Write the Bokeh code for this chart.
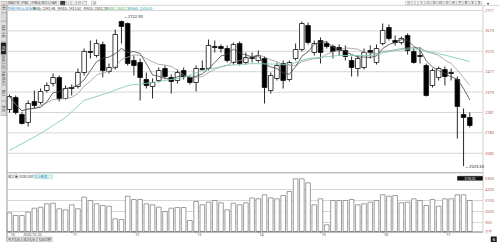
import math
import pandas as pd
from bokeh.plotting import figure
from bokeh.models import Range1d, ColumnDataSource
from bokeh.core.properties import value
from bokeh.embed import file_html
from bokeh.resources import INLINE

# ---------------- data ----------------
opens = [2295.4, 2353.0, 2271.3, 2232.9, 2333.8, 2329.0, 2386.6, 2420.3, 2449.1, 2348.2,
         2401.1, 2405.9, 2473.1, 2574.0, 2554.8, 2607.6, 2477.9, 2497.1, 2718.1, 2708.5,
         2530.8, 2521.2, 2439.5, 2405.9, 2434.7, 2492.3, 2449.1, 2434.7, 2482.7, 2449.1,
         2425.1, 2492.3, 2492.3, 2598.0, 2598.0, 2588.4, 2521.2, 2612.4, 2521.2, 2545.2,
         2530.8, 2540.4, 2386.6, 2444.3, 2516.3, 2439.5, 2540.4, 2583.6, 2698.9, 2569.2,
         2626.8, 2612.4, 2598.0, 2593.2, 2578.8, 2530.8, 2492.3, 2497.1, 2578.8, 2521.2,
         2612.4, 2689.3, 2626.8, 2617.2, 2650.9, 2574.0, 2554.8, 2506.7, 2410.7, 2449.1,
         2487.5, 2473.1, 2439.5, 2271.3, 2256.9]
closes = [2357.8, 2281.0, 2228.1, 2324.2, 2314.6, 2381.8, 2410.7, 2449.1, 2348.2, 2396.2,
          2396.2, 2473.1, 2574.0, 2569.2, 2612.4, 2482.7, 2497.1, 2655.7, 2694.1, 2516.3,
          2506.7, 2449.1, 2410.7, 2425.1, 2482.7, 2453.9, 2429.9, 2473.1, 2453.9, 2425.1,
          2492.3, 2487.5, 2602.8, 2593.2, 2588.4, 2530.8, 2607.6, 2516.3, 2545.2, 2540.4,
          2554.8, 2401.1, 2458.7, 2506.7, 2434.7, 2521.2, 2583.6, 2708.5, 2617.2, 2612.4,
          2569.2, 2598.0, 2574.0, 2578.8, 2550.0, 2497.1, 2540.4, 2569.2, 2569.2, 2588.4,
          2674.9, 2636.4, 2617.2, 2636.4, 2578.8, 2521.2, 2550.0, 2362.6, 2482.7, 2492.3,
          2453.9, 2468.3, 2309.8, 2256.9, 2218.5]
highs = [2367.4, 2362.6, 2281.0, 2338.6, 2386.6, 2396.2, 2425.1, 2468.3, 2458.7, 2410.7,
         2415.5, 2492.3, 2588.4, 2626.8, 2631.6, 2622.0, 2516.3, 2679.7, 2722.9, 2713.3,
         2554.8, 2540.4, 2473.1, 2444.3, 2497.1, 2506.7, 2463.5, 2487.5, 2497.1, 2458.7,
         2506.7, 2530.8, 2631.6, 2626.8, 2607.6, 2602.8, 2617.2, 2622.0, 2569.2, 2569.2,
         2578.8, 2550.0, 2473.1, 2521.2, 2530.8, 2530.8, 2612.4, 2718.1, 2713.3, 2626.8,
         2641.3, 2622.0, 2607.6, 2607.6, 2602.8, 2550.0, 2554.8, 2588.4, 2602.8, 2607.6,
         2708.5, 2703.7, 2650.9, 2646.1, 2660.5, 2588.4, 2593.2, 2516.3, 2492.3, 2501.9,
         2501.9, 2492.3, 2453.9, 2300.2, 2281.0]
lows = [2281.0, 2271.3, 2223.3, 2213.7, 2300.2, 2319.4, 2377.0, 2405.9, 2333.8, 2343.4,
        2362.6, 2396.2, 2458.7, 2540.4, 2545.2, 2449.1, 2468.3, 2487.5, 2612.4, 2506.7,
        2458.7, 2338.6, 2396.2, 2348.2, 2425.1, 2444.3, 2372.2, 2420.3, 2439.5, 2415.5,
        2381.8, 2482.7, 2482.7, 2569.2, 2569.2, 2521.2, 2511.5, 2506.7, 2511.5, 2521.2,
        2521.2, 2324.2, 2372.2, 2434.7, 2396.2, 2429.9, 2530.8, 2574.0, 2607.6, 2554.8,
        2516.3, 2588.4, 2540.4, 2554.8, 2530.8, 2453.9, 2453.9, 2487.5, 2540.4, 2511.5,
        2602.8, 2626.8, 2602.8, 2607.6, 2559.6, 2516.3, 2516.3, 2357.8, 2401.1, 2434.7,
        2410.7, 2434.7, 2156.0, 2023.3, 2208.9]
volumes = [1870, 1600, 1600, 1930, 2330, 2430, 2770, 2830, 2270, 2170,
           2670, 2270, 3430, 3100, 2770, 2600, 2530, 1270, 1200, 3530,
           3200, 3200, 2770, 2670, 2430, 2000, 2330, 2400, 2400, 1100,
           3000, 2670, 2930, 3100, 2870, 2170, 2830, 2670, 2870, 3350,
           3270, 3670, 3370, 3270, 3600, 4000, 5270, 5270, 4870, 2670,
           3270, 670, 3100, 3100, 3100, 3200, 2670, 2770, 2930, 3100,
           3670, 3530, 3600, 2870, 2930, 3270, 3100, 2600, 3200, 2530,
           3270, 3270, 3670, 3670, 3100]
ma60_idx = [0, 5, 9, 12, 16, 19, 23, 28, 31, 35, 39, 45, 48, 53, 58, 62, 65, 69, 74]
ma60_val = [2098.4, 2180.0, 2257.0, 2339.0, 2377.0, 2411.0, 2425.0, 2449.0, 2483.0, 2507.0,
            2516.0, 2512.0, 2540.0, 2555.0, 2555.0, 2579.0, 2588.0, 2564.0, 2526.0]
price_ticks = [2771, 2673, 2575, 2477, 2379, 2281, 2183, 2085]
vol_ticks = [5300, 4200, 3100, 2000, 900]
vol_tick_labels = ["5300", "4200", "3100", "2000", "900"]
date_idx = [0, 10, 20, 30, 40, 50, 60, 70]
date_labels = ["10", "11", "12", "13", "14", "15", "16", "17"]
first_date = "2020-10-20"

# ---------------- geometry ----------------
W, H = 499, 242
SP, X0 = 6.22, 9.0           # px per bar, px of first bar centre
P_TOP, P_PER_PX = 2819.0, 4.804
V_BASE_PX, V_PER_PX = 231.0, 100.0
PL, PR = 6.5, 482.5          # plot frame left / right (px)
CJK = value("Noto Sans CJK SC")
SANS = value("Noto Sans")

n = len(opens)
idx = list(range(n))

p = figure(width=W, height=H, output_backend="svg", toolbar_location=None,
           x_range=Range1d(-X0 / SP, (W - X0) / SP),
           y_range=Range1d(P_TOP - P_PER_PX * H, P_TOP),
           x_axis_location=None, y_axis_location=None,
           min_border=0, outline_line_color=None,
           background_fill_color="white", border_fill_color="white")
for g in p.grid:
    g.visible = False
p.extra_x_ranges = {"px": Range1d(0, W)}
p.extra_y_ranges = {"px": Range1d(H, 0),
                    "vol": Range1d(-(H - V_BASE_PX) * V_PER_PX, V_BASE_PX * V_PER_PX)}


def box(x0, y0, x1, y1, fill, line="#a0a0a0", lw=0.6):
    p.quad(left=[x0], right=[x1], top=[y0], bottom=[y1], x_range_name="px", y_range_name="px",
           fill_color=fill, line_color=line, line_width=lw)


def hline(y, x0, x1, color, lw=1.0, dash="solid"):
    p.segment(x0=[x0], x1=[x1], y0=[y], y1=[y], x_range_name="px", y_range_name="px",
              line_color=color, line_width=lw, line_dash=dash)


def vline(x, y0, y1, color, lw=1.0):
    p.segment(x0=[x], x1=[x], y0=[y0], y1=[y1], x_range_name="px", y_range_name="px",
              line_color=color, line_width=lw)


def txt(xs, ys, texts, size="4px", color="#333333", align="left", font=CJK, angle=0.0,
        baseline="middle"):
    p.text(x=xs, y=ys, text=texts, x_range_name="px", y_range_name="px",
           text_font=font, text_font_size=size, text_color=color, text_align=align,
           text_baseline=baseline, angle=angle)


# ---------------- header ----------------
hline(4.8, 0, W, "#c8c8c8", 0.8)
tabs = ["MA5", "TIE", "FIB4", "FIB34", "BOLL", "SAR"]
tx = [7, 14, 21, 31, 41, 50]
tw = [6.5, 6.5, 9, 9, 8.5, 8.5]
for x, w_, t in zip(tx, tw, tabs):
    box(x, 0.4, x + w_, 4.3, "#f4f4f4", "#b0b0b0", 0.5)
txt([x + 0.6 for x in tx], [2.4] * len(tx), tabs, size="3px", color="#444444", font=SANS)
box(60, 0.4, 64.5, 4.3, "#3a3a3a", "#3a3a3a", 0.5)
for x in [66, 71, 76, 82, 91]:
    box(x, 0.4, x + 4.3, 4.3, "#f4f4f4", "#a8a8a8", 0.5)
txt([67, 72, 77, 83, 92], [2.4] * 5, ["+", "-", "↔", "▤", "⚙"], size="3px", color="#555555")

period = ["分", "1", "5", "15", "30", "60", "日", "周", "月", "季", "年", "多"]
for k, t in enumerate(period):
    x = 405 + k * 6.4
    box(x, 0.4, x + 6.0, 4.3, "#f6f6f6", "#b0b0b0", 0.5)
txt([405 + k * 6.4 + 3.0 for k in range(len(period))], [2.4] * len(period), period,
    size="3px", color="#444444", align="center")
txt([486], [2.4], ["▾"], size="4px", color="#222222")

ma5 = pd.Series(closes).rolling(5, min_periods=1).mean().tolist()
ma10 = pd.Series(closes).rolling(10, min_periods=1).mean().tolist()
ma20 = pd.Series(closes).rolling(20, min_periods=1).mean().tolist()
row2 = [("均线(MA)", 7, "#2a8fbd"), ("上证指数", 21, "#2a8fbd"),
        (f"MA5: {ma5[-1]:.2f}", 33, "#333333"), (f"MA10: {ma10[-1]:.2f}", 57, "#333333"),
        (f"MA20: {ma20[-1]:.2f}", 83, "#333333"), (f"MA30: {ma20[-1]:.2f}", 105, "#3a9a3a"),
        (f"MA60: {ma60_val[-1]:.2f}", 128, "#2aa0b0")]
txt([r[1] for r in row2], [7.6] * len(row2), [r[0] for r in row2], size="3.6px",
    color=[r[2] for r in row2])

# ---------------- left toolbar ----------------
segs = [(0.5, 12), (12.5, 20.5), (21, 41), (42, 54), (54.5, 68), (69, 84), (85, 100), (101, 115)]
labels = ["分时", "…", "技术分析", "K线", "画线工具", "多股同列", "统计", "资讯"]
for k, (a, b) in enumerate(segs):
    dark = (k == 3)
    box(0.2, a, 5.8, b, "#1e1e1e" if dark else "#dedede", "#9a9a9a", 0.5)
txt([3.0] * len(segs), [(a + b) / 2 for a, b in segs], labels, size="3.2px",
    color=["#ffffff" if k == 3 else "#333333" for k in range(len(segs))],
    align="center", angle=-math.pi / 2)

# ---------------- frame & grid ----------------
vline(PL, 4.8, H, "#8a8a8a", 0.9)
vline(PR, 4.8, 232, "#c4c4c4", 0.8)
p.segment(x0=[PL] * len(price_ticks), x1=[PR] * len(price_ticks), y0=price_ticks, y1=price_ticks,
          x_range_name="px", line_color="#d6d6d6", line_width=1)
p.text(x=[484.5] * len(price_ticks), y=price_ticks, text=[str(t) for t in price_ticks],
       x_range_name="px", text_font=SANS, text_font_size="4px", text_color="#b8635a",
       text_baseline="middle")

# ---------------- candles ----------------
up = [c >= o for o, c in zip(opens, closes)]
src = ColumnDataSource(dict(
    x=idx, o=opens, c=closes, h=highs, l=lows,
    top=[max(o, c) for o, c in zip(opens, closes)],
    bot=[min(o, c) for o, c in zip(opens, closes)],
    fill=["white" if u else "black" for u in up]))
p.segment(x0="x", y0="l", x1="x", y1="h", source=src, line_color="#111111", line_width=0.9)
p.vbar(x="x", width=0.74, top="top", bottom="bot", fill_color="fill", line_color="#111111",
       line_width=0.8, source=src)

p.line(idx, ma10, line_color="#9a9a9a", line_width=0.8)
p.line(idx, ma5, line_color="#444444", line_width=0.8)
p.line(ma60_idx, ma60_val, line_color="#86cbb7", line_width=0.9)

hi = max(range(n), key=lambda i: highs[i])
lo = min(range(n), key=lambda i: lows[i])
p.text(x=[hi + 0.4], y=[highs[hi] + 20], text=[f"←{highs[hi]:.2f}"], text_font=SANS,
       text_font_size="4px", text_color="#222222", text_baseline="middle")
p.text(x=[lo + 0.25], y=[lows[lo]], text=[f"←{lows[lo]:.2f}"], text_font=SANS,
       text_font_size="4px", text_color="#222222", text_baseline="middle")

# ---------------- volume panel ----------------
hline(172.3, PL, PR, "#9a9a9a", 0.9)
txt([7.5], [176.2], [f"成交量 {volumes[-1]}/{sum(volumes) // len(volumes)}"], size="3.4px",
    color="#333333")
box(33, 174.3, 52, 178.2, "#dff3f3", "#9fd6d6", 0.5)
txt([34], [176.2], ["以上数值"], size="3.2px", color="#2a8fbd")
p.segment(x0=[PL] * 4, x1=[PR] * 4, y0=vol_ticks[1:], y1=vol_ticks[1:], x_range_name="px",
          y_range_name="vol", line_color="#d6d6d6", line_width=1)
p.vbar(x=idx, width=0.74, top=volumes, bottom=0, y_range_name="vol", fill_color="white",
       line_color="#858585", line_width=0.8)
box(457, 175.8, 482, 179.8, "#111111", "#111111", 0.5)
txt([469.5], [177.8], [f"{volumes[-1]:.2f}"], size="3px", color="white", align="center",
    font=SANS)
p.text(x=[484.5] * len(vol_ticks), y=vol_ticks, text=vol_tick_labels, x_range_name="px",
       y_range_name="vol", text_font=SANS, text_font_size="4px", text_color="#b8635a",
       text_baseline="middle")
txt([484.5], [231], ["万手"], size="3.5px", color="#b8635a")
hline(231.5, PL, PR, "#6a6a6a", 0.9)

# date axis
p.segment(x0=date_idx, x1=date_idx, y0=[0] * len(date_idx), y1=[-150] * len(date_idx),
          y_range_name="vol", line_color="#6a6a6a", line_width=0.8)
p.text(x=[d + 0.2 for d in date_idx], y=[-330] * len(date_idx), text=date_labels,
       y_range_name="vol", text_font=SANS, text_font_size="3.5px", text_color="#444444",
       text_baseline="middle")
p.text(x=[date_idx[0] + 2.2], y=[-330], text=[first_date], y_range_name="vol",
       text_font=SANS, text_font_size="3.5px", text_color="#444444", text_baseline="middle")

# bottom tabs
btabs = ["技术指标", "成交指标", "指标切换"]
bx = [6.5, 21.5, 37]
for x in bx:
    box(x, 236.6, x + 14.5, 241.6, "#f2f2f2", "#8a8a8a", 0.5)
txt([x + 7.25 for x in bx], [239.1] * 3, btabs, size="3px", color="#333333", align="center")
box(490.5, 236.3, 496, 241.8, "#1a1a1a", "#1a1a1a", 0.5)
txt([493.25], [239.1], ["B"], size="3.4px", color="white", align="center", font=SANS)

open("out.html", "w").write(file_html(p, INLINE))
